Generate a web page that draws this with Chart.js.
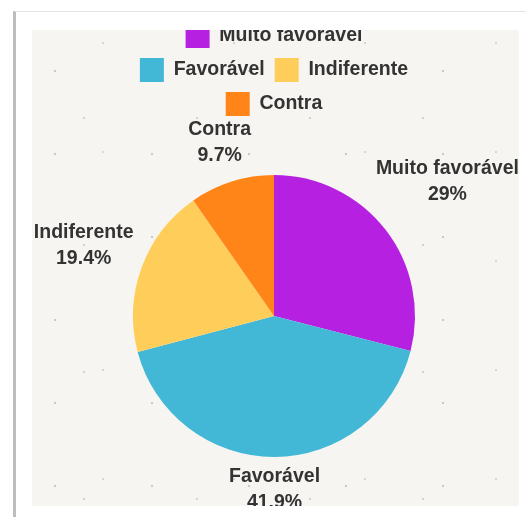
<!DOCTYPE html>
<html>
<head>
<meta charset="utf-8">
<script src="https://cdn.jsdelivr.net/npm/chart.js@4/dist/chart.umd.min.js"></script>
<style>
  html, body { margin: 0; padding: 0; background: #ffffff; width: 526px; height: 517px; overflow: hidden; }
  #card {
    position: absolute; left: 13px; top: 11px; width: 540px; height: 540px;
    background: #ffffff;
    border-left: 3px solid #bdbdbd;
    border-top: 1px solid #e4e4e4;
  }
  #panel {
    position: absolute; left: 32px; top: 30px; width: 487px; height: 476px;
    overflow: hidden;
    background-color: #f6f5f1;
    background-image:
      radial-gradient(circle at 23px 41px, rgba(120,120,120,0.35) 0 1px, transparent 1.6px),
      radial-gradient(circle at 71px 13px, rgba(120,120,120,0.25) 0 1px, transparent 1.6px),
      radial-gradient(circle at 52px 88px, rgba(160,120,110,0.3) 0 1px, transparent 1.6px);
    background-size: 97px 83px, 131px 109px, 113px 127px;
  }
  #chart { position: absolute; left: 0; top: -16px; }
</style>
</head>
<body>
<div id="card"></div>
<div id="panel"><canvas id="chart" width="487" height="516" style="width:487px;height:516px"></canvas></div>
<script>
const categories = ['Muito favorável', 'Favorável', 'Indiferente', 'Contra'];
const shares = [29, 41.9, 19.4, 9.7];
const shareLabels = shares.map(v => String(v) + '%');
const sliceColors = ['#b620e0', '#43b8d6', '#ffce5a', '#ff8519'];

const FONT = '"Liberation Sans", Arial, Helvetica, sans-serif';
const FONT_SIZE = 19.5;

const outLabels = {
  id: 'outLabels',
  afterDatasetsDraw(chart) {
    const ctx = chart.ctx;
    const meta = chart.getDatasetMeta(0);
    ctx.save();
    ctx.font = 'bold ' + FONT_SIZE + 'px ' + FONT;
    ctx.fillStyle = '#333333';
    ctx.textAlign = 'center';
    ctx.textBaseline = 'middle';
    meta.data.forEach((arc, i) => {
      const p = arc.getProps(['x', 'y', 'startAngle', 'endAngle', 'outerRadius'], true);
      const mid = (p.startAngle + p.endAngle) / 2;
      const dx = Math.cos(mid), dy = Math.sin(mid);
      const lines = [categories[i], shareLabels[i]];
      const w = Math.max(...lines.map(l => ctx.measureText(l).width));
      const lh = 26;
      const h = lines.length * lh;
      const dist = p.outerRadius + 6 + Math.abs(dx) * w / 2 + Math.abs(dy) * h / 2;
      const cx = p.x + dx * dist, cy = p.y + dy * dist;
      lines.forEach((l, j) => ctx.fillText(l, cx, cy + (j - (lines.length - 1) / 2) * lh));
    });
    ctx.restore();
  }
};

new Chart(document.getElementById('chart'), {
  type: 'pie',
  data: {
    labels: categories,
    datasets: [{
      data: shares,
      backgroundColor: sliceColors,
      borderWidth: 0,
      radius: 141
    }]
  },
  options: {
    responsive: false,
    animation: false,
    layout: { padding: { left: 87, right: 90, top: 0, bottom: 24 } },
    plugins: {
      legend: {
        position: 'top',
        labels: {
          boxWidth: 24,
          boxHeight: 24,
          padding: 10,
          color: '#333333',
          font: { family: FONT, size: FONT_SIZE, weight: 'bold' }
        }
      },
      tooltip: { enabled: false }
    }
  },
  plugins: [outLabels]
});
</script>
</body>
</html>
